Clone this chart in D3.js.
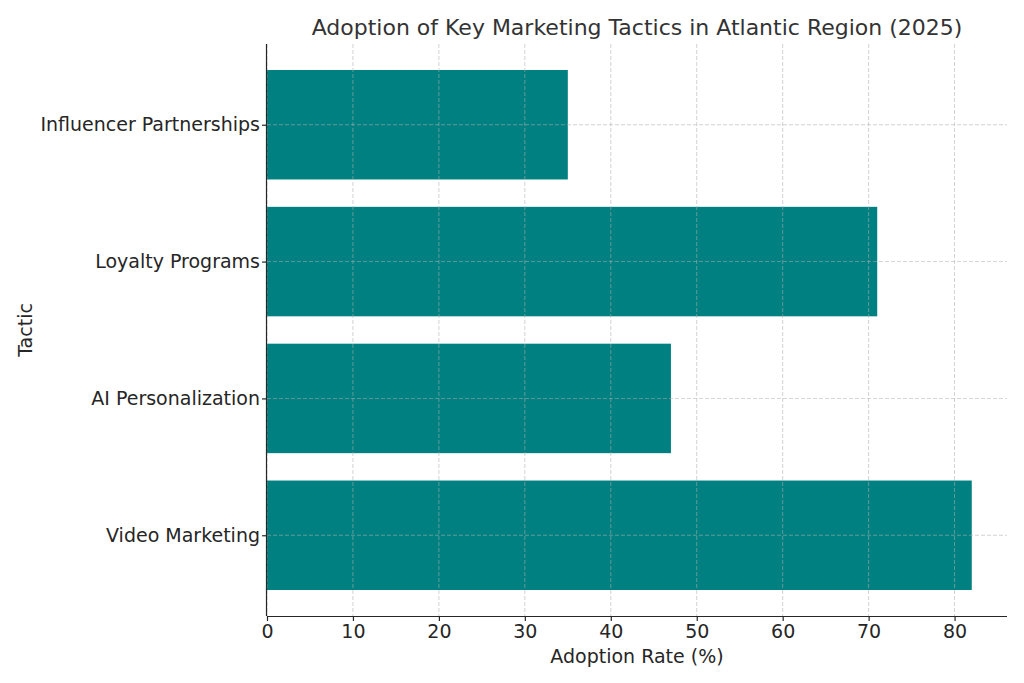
<!DOCTYPE html>
<html>
<head>
<meta charset="utf-8">
<script src="https://cdn.jsdelivr.net/npm/d3@7"></script>
<style>
  body { margin: 0; background: #fff; }
  svg text { font-family: "DejaVu Sans", sans-serif; }
  .grid line { stroke: #b0b0b0; stroke-dasharray: 4 2; stroke-width: 0.8; opacity: 0.7; }
  .axis path, .axis line { stroke: #262626; stroke-width: 1.2; }
  .axis text { fill: #262626; font-size: 19px; }
</style>
</head>
<body>
<svg id="chart" width="1024" height="683"></svg>
<script>
const tactics = ['Video Marketing', 'AI Personalization', 'Loyalty Programs', 'Influencer Partnerships']
const adoption = [82, 47, 71, 35]
const xTicks = [0, 10, 20, 30, 40, 50, 60, 70, 80]

const margin = {left: 267, right: 17, top: 44, bottom: 67}
const width = 1024 - margin.left - margin.right
const height = 683 - margin.top - margin.bottom

const svg = d3.select('#chart')
const g = svg.append('g').attr('transform', `translate(${margin.left},${margin.top})`)

const x = d3.scaleLinear()
  .domain([0, d3.max(adoption) * 1.05])
  .range([0, width])

// matplotlib-style index positions with 5% margins
const y = d3.scaleLinear()
  .domain([-0.59, 3.59])
  .range([height, 0])
const barH = y(0) - y(0.8)

g.selectAll('rect.bar')
  .data(adoption)
  .enter()
  .append('rect')
  .attr('class', 'bar')
  .attr('x', x(0))
  .attr('y', (d, i) => y(i + 0.4))
  .attr('width', d => x(d) - x(0))
  .attr('height', barH)
  .attr('fill', '#008080')

// grid on top of bars
const grid = g.append('g').attr('class', 'grid')
grid.selectAll('line.v')
  .data(xTicks)
  .enter()
  .append('line')
  .attr('x1', d => x(d)).attr('x2', d => x(d))
  .attr('y1', 0).attr('y2', height)
grid.selectAll('line.h')
  .data(tactics)
  .enter()
  .append('line')
  .attr('x1', 0).attr('x2', width)
  .attr('y1', (d, i) => y(i)).attr('y2', (d, i) => y(i))

const xAxis = d3.axisBottom(x).tickValues(xTicks).tickSize(5).tickPadding(4)
g.append('g')
  .attr('class', 'axis')
  .attr('transform', `translate(0,${height})`)
  .call(xAxis)
  .attr('font-family', null).attr('font-size', null)
  .call(a => a.select('.domain').attr('d', `M0,0.5H${width}`))

const yAxis = d3.axisLeft(y).tickValues(d3.range(tactics.length)).tickFormat(i => tactics[i]).tickSize(5).tickPadding(2)
g.append('g')
  .attr('class', 'axis')
  .call(yAxis)
  .attr('font-family', null).attr('font-size', null)
  .call(a => a.select('.domain').attr('d', `M-0.5,0V${height}`))

svg.append('text')
  .attr('x', margin.left + width / 2)
  .attr('y', 35)
  .attr('text-anchor', 'middle')
  .attr('fill', '#333')
  .style('font-size', '22px')
  .text('Adoption of Key Marketing Tactics in Atlantic Region (2025)')

svg.append('text')
  .attr('x', margin.left + width / 2)
  .attr('y', 663)
  .attr('text-anchor', 'middle')
  .attr('fill', '#262626')
  .style('font-size', '19px')
  .text('Adoption Rate (%)')

svg.append('text')
  .attr('transform', `translate(32,${margin.top + height / 2}) rotate(-90)`)
  .attr('text-anchor', 'middle')
  .attr('fill', '#262626')
  .style('font-size', '19px')
  .text('Tactic')
</script>
</body>
</html>
